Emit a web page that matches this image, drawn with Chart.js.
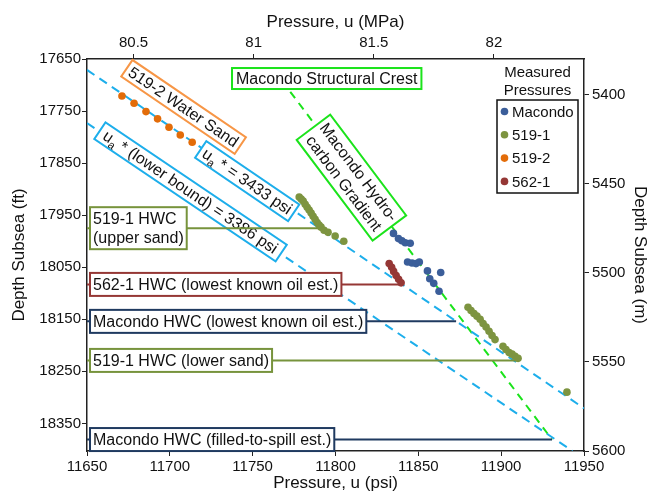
<!DOCTYPE html>
<html lang="en">
<head>
<meta charset="UTF-8">
<title>Macondo pressure vs depth</title>
<script src="https://cdn.jsdelivr.net/npm/chart.js"></script>
<style>
  html, body { margin: 0; padding: 0; background: #fff; }
  #wrap { width: 650px; height: 494px; }
</style>
</head>
<body>
<div id="wrap"><canvas id="pressureChart" width="650" height="494"></canvas></div>
<script>
// measured pressures: psi vs depth subsea (ft)
const macondoPsi = [11835.0, 11838.0, 11840.1, 11842.1, 11845.1, 11843.5, 11846.2, 11848.6, 11850.6, 11855.5, 11863.5, 11856.9, 11859.3, 11862.5];
const macondoFt  = [17985, 17995, 17999, 18003, 18004, 18040, 18042, 18043, 18040, 18057, 18060, 18072, 18081, 18096];

const w519_1Psi = [11778.1, 11779.3, 11780.5, 11781.7, 11782.9, 11784.1, 11785.3, 11786.5, 11787.7, 11788.9, 11790.1, 11791.3, 11793.1, 11795.5, 11799.8, 11805.0,
                   11880.0, 11881.8, 11883.6, 11885.4, 11887.3, 11889.1, 11890.9, 11892.7, 11894.5, 11896.3, 11901.1, 11902.9, 11904.8, 11906.6, 11908.4, 11910.2, 11939.7];
const w519_1Ft  = [17915, 17919, 17923, 17929, 17935, 17940, 17946, 17952, 17958, 17964, 17969, 17973, 17979, 17983, 17990, 18000,
                   18127, 18133, 18139, 18144, 18150, 18158, 18165, 18173, 18181, 18189, 18202, 18208, 18214, 18217, 18221, 18225, 18290];

const w519_2Psi = [11671.1, 11678.4, 11685.6, 11692.6, 11699.5, 11706.3, 11713.5];
const w519_2Ft  = [17721, 17735, 17751, 17765, 17781, 17796, 17810];

const w562_1Psi = [11832.4, 11833.9, 11835.1, 11836.6, 11838.1, 11839.6];
const w562_1Ft  = [18043, 18050, 18058, 18066, 18073, 18080];

// gradient lines (end points)
const waterLinePsi = [11650, 11950];   // ua* = 3433 psi
const waterLineFt  = [17671, 18321];
const lowerLinePsi = [11650, 11943];   // ua* lower bound = 3386 psi
const lowerLineFt  = [17773, 18403];
const hcLinePsi    = [11772.7, 11930.7];
const hcLineFt     = [17713, 18381];

// hydrocarbon-water contacts
const hwcLabels = [['519-1 HWC', '(upper sand)'], ['562-1 HWC (lowest known oil est.)'], ['Macondo HWC (lowest known oil est.)'], ['519-1 HWC (lower sand)'], ['Macondo HWC (filled-to-spill est.)']];
const hwcFt     = [17975, 18083, 18154, 18229, 18381];
const hwcEndPsi = [11790.7, 11839, 11872.8, 11909.6, 11930.7];

// axis ticks
const psiTicks = [11650, 11700, 11750, 11800, 11850, 11900, 11950];
const mpaTicks = [80.5, 81, 81.5, 82];
const ftTicks  = [17650, 17750, 17850, 17950, 18050, 18150, 18250, 18350];
const mTicks   = [5400, 5450, 5500, 5550, 5600];

const FONT = '"Liberation Sans", Arial, Helvetica, sans-serif';
const TXT = '#111';
const C_MAC = '#3B5E9A', C_519_1 = '#7D9440', C_519_2 = '#E36C09', C_562_1 = '#953735';
const CYAN = '#1DAEEB', GREEN = '#1BE31B', ORANGE = '#F79646', NAVY = '#1F3A60', OLIVE = '#77933C';
const hwcColors = [OLIVE, C_562_1, NAVY, OLIVE, NAVY];

const pts = (xs, ys) => xs.map((x, i) => ({ x: x, y: ys[i] }));

function pointSet(label, xs, ys, color) {
  return { label: label, data: pts(xs, ys), backgroundColor: color, borderColor: color,
           pointRadius: 3.8, pointBorderWidth: 0, showLine: false, order: 0, isPoints: true };
}
function lineSet(xs, ys, color, dash, order) {
  return { data: pts(xs, ys), borderColor: color, borderWidth: 2, borderDash: dash || [],
           pointRadius: 0, showLine: true, fill: false, order: order };
}

const datasets = [
  pointSet('Macondo', macondoPsi, macondoFt, C_MAC),
  pointSet('519-1', w519_1Psi, w519_1Ft, C_519_1),
  pointSet('519-2', w519_2Psi, w519_2Ft, C_519_2),
  pointSet('562-1', w562_1Psi, w562_1Ft, C_562_1)
];
hwcFt.forEach((d, i) => datasets.push(lineSet([11650, hwcEndPsi[i]], [d, d], hwcColors[i], null, 1)));
datasets.push(lineSet(waterLinePsi, waterLineFt, CYAN, [9, 6], 2));
datasets.push(lineSet(lowerLinePsi, lowerLineFt, CYAN, [9, 6], 2));
datasets.push(lineSet(hcLinePsi, hcLineFt, GREEN, [8, 6], 2));

// rotated / floating labels, placed in data coordinates
const floatLabels = [
  { lines: [[{ t: '519-2 Water Sand' }]], psi: 11708.3, ft: 17742, along: [waterLinePsi, waterLineFt], color: ORANGE },
  { lines: [[{ t: 'u' }, { t: 'a', sub: true }, { t: ' * = 3433 psi' }]], psi: 11746.7, ft: 17884.6, along: [waterLinePsi, waterLineFt], color: CYAN },
  { lines: [[{ t: 'u' }, { t: 'a', sub: true }, { t: ' * (lower bound) = 3386 psi' }]], psi: 11712.5, ft: 17905.2, along: [lowerLinePsi, lowerLineFt], color: CYAN, padX: 6 },
  { lines: [[{ t: 'Macondo Hydro-' }], [{ t: 'carbon Gradient' }]], psi: 11809.6, ft: 17877.9, along: [hcLinePsi, hcLineFt], color: GREEN, lineH: 18.5, padY: 2.5 },
  { lines: [[{ t: 'Macondo Structural Crest' }]], psi: 11794.7, ft: 17687.5, along: null, color: GREEN, lineH: 18, padY: 1.5 }
];

function fontStr(size) { return size + 'px ' + FONT; }
function segsWidth(ctx, segs, size) {
  let w = 0;
  segs.forEach(s => { ctx.font = fontStr(s.sub ? size * 0.7 : size); w += ctx.measureText(s.t).width; });
  return w;
}
function drawSegs(ctx, segs, x, y, size) {
  segs.forEach(s => {
    ctx.font = fontStr(s.sub ? size * 0.7 : size);
    ctx.fillText(s.t, x, s.sub ? y + size * 0.32 : y);
    x += ctx.measureText(s.t).width;
  });
}
function drawBox(ctx, o) {
  const widths = o.lines.map(l => segsWidth(ctx, l, o.size));
  const w = Math.max(...widths) + 2 * o.padX;
  const h = o.lines.length * o.lineH + 2 * o.padY;
  ctx.save();
  ctx.translate(o.x, o.y);
  ctx.rotate(o.angle || 0);
  const x0 = o.anchor === 'left' ? 0 : -w / 2;
  ctx.fillStyle = '#fff';
  ctx.fillRect(x0, -h / 2, w, h);
  ctx.lineWidth = 2;
  ctx.strokeStyle = o.color;
  ctx.strokeRect(x0, -h / 2, w, h);
  ctx.fillStyle = TXT;
  ctx.textBaseline = 'middle';
  ctx.textAlign = 'left';
  o.lines.forEach((l, i) => {
    const ly = -h / 2 + o.padY + o.lineH * (i + 0.5) + 1;
    const lx = o.align === 'left' ? x0 + o.padX : x0 + (w - widths[i]) / 2;
    drawSegs(ctx, l, lx, ly, o.size);
  });
  ctx.restore();
}

function drawFloating(chart) {
  const { ctx, scales: { x, y } } = chart;
  floatLabels.forEach(f => {
    let angle = 0;
    if (f.along) {
      const [lx, ly] = f.along;
      angle = Math.atan2(y.getPixelForValue(ly[1]) - y.getPixelForValue(ly[0]),
                         x.getPixelForValue(lx[1]) - x.getPixelForValue(lx[0]));
    }
    drawBox(ctx, { x: x.getPixelForValue(f.psi), y: y.getPixelForValue(f.ft), angle: angle,
                   lines: f.lines, color: f.color, size: 16, padX: f.padX || 4,
                   padY: f.padY || 1.5, lineH: f.lineH || 17 });
  });
}

function drawHwcBoxes(chart) {
  const { ctx, chartArea, scales: { y } } = chart;
  hwcLabels.forEach((lab, i) => {
    drawBox(ctx, { x: chartArea.left + 3, y: y.getPixelForValue(hwcFt[i]), anchor: 'left', align: 'left',
                   lines: lab.map(t => [{ t: t }]), color: hwcColors[i], size: 16, padX: 3, padY: 2, lineH: 19 });
  });
}

function drawLegend(chart) {
  const { ctx, chartArea } = chart;
  const right = chartArea.right - 6, left = right - 81, top = chartArea.top + 41;
  const items = chart.data.datasets.filter(d => d.isPoints);
  ctx.save();
  ctx.fillStyle = TXT;
  ctx.font = fontStr(15);
  ctx.textAlign = 'center';
  ctx.textBaseline = 'middle';
  ctx.fillText('Measured', (left + right) / 2, top - 27);
  ctx.fillText('Pressures', (left + right) / 2, top - 9);
  const h = 93;
  ctx.fillStyle = '#fff';
  ctx.fillRect(left, top, right - left, h);
  ctx.lineWidth = 1.5;
  ctx.strokeStyle = '#111';
  ctx.strokeRect(left, top, right - left, h);
  ctx.textAlign = 'left';
  items.forEach((d, i) => {
    const cy = top + 11.5 + i * 23.3;
    ctx.fillStyle = d.backgroundColor;
    ctx.beginPath();
    ctx.arc(left + 7.5, cy, 3.8, 0, Math.PI * 2);
    ctx.fill();
    ctx.fillStyle = TXT;
    ctx.fillText(d.label, left + 15, cy + 1);
  });
  ctx.restore();
}

const annotationPlugin = {
  id: 'wellAnnotations',
  beforeDatasetsDraw(chart) { chart.$floatDone = false; },
  beforeDatasetDraw(chart, args) {
    if (!chart.$floatDone && chart.data.datasets[args.index].order === 1) {
      drawFloating(chart);
      chart.$floatDone = true;
    }
  },
  afterDatasetsDraw(chart) {
    drawHwcBoxes(chart);
    drawLegend(chart);
  }
};

function axis(opts) {
  const base = {
    type: 'linear',
    display: true,
    position: opts.position,
    min: opts.min,
    max: opts.max,
    reverse: !!opts.reverse,
    afterBuildTicks: s => { s.ticks = opts.ticks.map(v => ({ value: v })); },
    afterFit: s => { if (s.isHorizontal()) s.height = opts.size; else s.width = opts.size; },
    ticks: { font: { size: 15, family: FONT }, color: TXT, padding: opts.tickPad, autoSkip: false,
             maxRotation: 0, minRotation: 0, callback: v => String(v) },
    grid: { drawOnChartArea: false, drawTicks: true, tickLength: 5, color: '#222' },
    border: { display: true, color: '#222', width: 1.5 },
    title: { display: true, text: opts.title, color: TXT, font: { size: 17, family: FONT }, padding: opts.titlePad }
  };
  return base;
}

new Chart(document.getElementById('pressureChart'), {
  type: 'scatter',
  data: { datasets: datasets },
  options: {
    responsive: false,
    animation: false,
    devicePixelRatio: 1,
    layout: { padding: 0 },
    plugins: { legend: { display: false }, tooltip: { enabled: false } },
    scales: {
      x:  axis({ position: 'bottom', min: 11650, max: 11950, ticks: psiTicks, size: 43, tickPad: 2,
                 title: 'Pressure, u (psi)', titlePad: { top: 0, bottom: 0 } }),
      x2: axis({ position: 'top', min: 80.306, max: 82.375, ticks: mpaTicks, size: 59, tickPad: 2,
                 title: 'Pressure, u (MPa)', titlePad: { top: 12, bottom: 0 } }),
      y:  axis({ position: 'left', min: 17650, max: 18403, reverse: true, ticks: ftTicks, size: 87, tickPad: 1,
                 title: 'Depth Subsea (ft)', titlePad: { top: 9, bottom: 0 } }),
      y2: axis({ position: 'right', min: 5380, max: 5600, reverse: true, ticks: mTicks, size: 66, tickPad: 3,
                 title: 'Depth Subsea (m)', titlePad: { top: 0, bottom: 0 } })
    }
  },
  plugins: [annotationPlugin]
});
</script>
</body>
</html>
